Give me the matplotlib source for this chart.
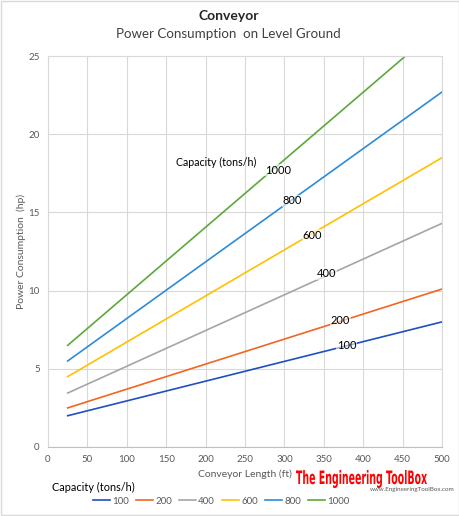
import numpy as np
import matplotlib.pyplot as plt
from matplotlib.patches import Rectangle, PathPatch
from matplotlib.textpath import TextPath
from matplotlib.font_manager import FontProperties
from matplotlib.transforms import Affine2D, IdentityTransform

# conveyor length (ft) and power (hp) for each capacity
length = [25, 500]
capacities = ['100', '200', '400', '600', '800', '1000']
power_100 = [2.0, 8.0]
power_200 = [2.5, 10.1]
power_400 = [3.45, 14.3]
power_600 = [4.5, 18.5]
power_800 = [5.5, 22.7]
power_1000 = [6.5, 27.0]
colors = ['#1F4FC0', '#F26522', '#A5A5A5', '#FFC000', '#2E8BD8', '#5DA83A']

# inline label positions (data coords)
label_x = [379, 371, 353, 335, 310, 292]
label_y = [6.5, 8.1, 11.1, 13.55, 15.75, 17.7]

plt.rcParams['font.family'] = ['Lato', 'DejaVu Sans']

fig = plt.figure(figsize=(4.6, 5.16), dpi=100)
ax = fig.add_axes([48/460, 1-447/516, (442-48)/460, (447-56)/516])

series = [power_100, power_200, power_400, power_600, power_800, power_1000]
for cap, vals, c in zip(capacities, series, colors):
    ax.plot(length, vals, color=c, lw=1.2, label=cap, clip_on=True)

for cap, lx, ly in zip(capacities, label_x, label_y):
    ax.text(lx, ly, cap, fontsize=8, ha='center', va='center', color='black',
            bbox=dict(facecolor='white', edgecolor='none', alpha=0.6, pad=0.5))
ax.text(214, 18.2, 'Capacity (tons/h)', fontsize=7.7, ha='center', va='center')

ax.set_xlim(0, 500)
ax.set_ylim(0, 25)
ax.set_xticks(np.arange(0, 501, 50))
ax.set_yticks(np.arange(0, 26, 5))
ax.grid(True, color='#D9D9D9', lw=0.8)
ax.set_axisbelow(True)
for s in ax.spines.values():
    s.set_color('#D9D9D9')
    s.set_linewidth(0.8)
ax.spines['bottom'].set_color('#BFBFBF')
ax.tick_params(length=0, labelsize=7, colors='#595959', pad=6)
ax.set_xlabel('Conveyor Length (ft)', fontsize=7.5, color='#595959', labelpad=4)
ax.set_ylabel('Power Consumption  (hp)', fontsize=7.5, color='#595959', labelpad=2)

fig.text(0.498, 1-16/516, 'Conveyor', fontsize=10, fontweight='bold', ha='center', va='center', color='#262626')
fig.text(0.497, 1-34/516, 'Power Consumption  on Level Ground', fontsize=9.6, ha='center', va='center', color='#404040')

fig.text(52/460, 1-487/516, 'Capacity (tons/h)', fontsize=7.8, ha='left', va='center')
fig.legend(loc='center', bbox_to_anchor=(221/460, 1-501/516), ncol=6, frameon=False,
           fontsize=7, handlelength=1.8, handletextpad=0.2, columnspacing=0.7,
           labelcolor='#595959')

# logo text, squeezed to the condensed look of the original
tp = TextPath((0, 0), 'The Engineering ToolBox', size=20,
              prop=FontProperties(family='DejaVu Sans', weight='bold'))
bb = tp.get_extents()
sx = 131 / bb.width
sy = 13.5 / 14.6
tr = Affine2D().translate(-bb.x0, 0).scale(sx, sy).translate(296, 516 - 484)
fig.add_artist(PathPatch(tr.transform_path(tp), facecolor='#FF0000', edgecolor='none',
                         transform=IdentityTransform()))
fig.text(412/460, 1-490/516, 'www.EngineeringToolBox.com', fontsize=4.5,
         color='#595959', ha='center', va='center')

fig.add_artist(Rectangle((0.002, 0.002), 0.996, 0.996, transform=fig.transFigure,
                         fill=False, edgecolor='#D9D9D9', lw=1))

fig.savefig('out.png', dpi=100)
